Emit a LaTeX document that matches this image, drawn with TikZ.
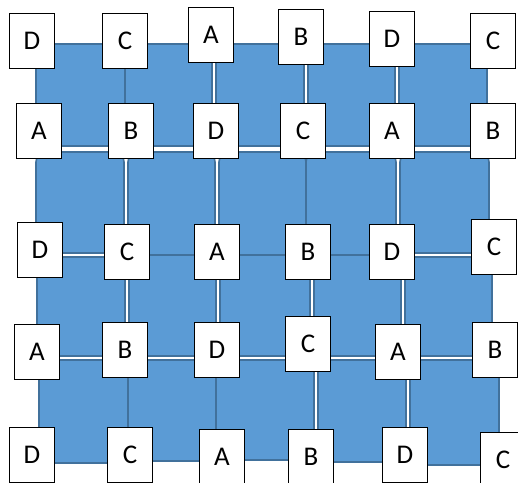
\documentclass[tikz,border=0pt]{standalone}
\usepackage{fontspec}
\setmainfont{Carlito}
\definecolor{cellfill}{HTML}{5B9BD5}
\definecolor{celldraw}{HTML}{41719C}
\begin{document}
\begin{tikzpicture}[x=1pt,y=-1pt,
  cell/.style={fill=cellfill,draw=celldraw,line width=1.6pt},
  lbl/.style={draw=black,fill=white,line width=1.3pt,minimum width=45pt,minimum height=55pt,inner sep=0pt,font=\fontsize{27}{27}\selectfont}]
\useasboundingbox (0,0) rectangle (518,482);
\clip (0,0) rectangle (518,482);
% row 1 cells
\begin{scope}[rounded corners=3pt]
\draw[cell] (36,44) rectangle (125,146);
\draw[cell] (125,44) rectangle (212,146);
\draw[cell] (216,44) rectangle (304,146);
\draw[cell] (308,44) rectangle (395,146);
\draw[cell] (399,44) rectangle (487,146);
\end{scope}
% row 2 cells
\begin{scope}[rounded corners=10pt]
\draw[cell] (36,152) rectangle (124,253);
\draw[cell] (128,152) rectangle (215,255);
\draw[cell] (219,152) rectangle (306,255);
\draw[cell] (306,152) rectangle (396,255);
\draw[cell] (400,152) rectangle (489,253);
\end{scope}
% row 3 cells
\begin{scope}[rounded corners=2pt]
\draw[cell] (37,257) rectangle (125,356);
\draw[cell] (129,255) rectangle (216,356);
\draw[cell] (220,255) rectangle (310,356);
\draw[cell] (314,255) rectangle (401,356);
\draw[cell] (405,257) rectangle (492,356);
\end{scope}
% row 4 cells
\begin{scope}[rounded corners=2pt]
\draw[cell] (39,360) rectangle (128,463);
\draw[cell] (128,360) rectangle (216,461);
\draw[cell] (216,360) rectangle (314,460);
\draw[cell] (318,360) rectangle (406,462);
\draw[cell] (410,360) rectangle (499,465);
\end{scope}
% labels row 1
\node[lbl] (a1) at (32,41) {D};
\node[lbl] (a2) at (125,41) {C};
\node[lbl] (a3) at (211,35) {A};
\node[lbl] (a4) at (301,37) {B};
\node[lbl] (a5) at (392,39) {D};
\node[lbl] (a6) at (493,41) {C};
% row 2
\node[lbl] (b1) at (39,131) {A};
\node[lbl] (b2) at (131,131) {B};
\node[lbl] (b3) at (216,131) {D};
\node[lbl] (b4) at (303,131) {C};
\node[lbl] (b5) at (392,131) {A};
\node[lbl] (b6) at (493,131) {B};
% row 3
\node[lbl] (c1) at (40,250) {D};
\node[lbl] (c2) at (127,252) {C};
\node[lbl] (c3) at (217,252) {A};
\node[lbl] (c4) at (308,252) {B};
\node[lbl] (c5) at (392,252) {D};
\node[lbl] (c6) at (494,247) {C};
% row 4
\node[lbl] (d1) at (37,352) {A};
\node[lbl] (d2) at (125,350) {B};
\node[lbl] (d3) at (217,350) {D};
\node[lbl] (d4) at (308,344) {C};
\node[lbl] (d5) at (398,352) {A};
\node[lbl] (d6) at (495,350) {B};
% row 5
\node[lbl] (e1) at (32,455) {D};
\node[lbl] (e2) at (130,455) {C};
\node[lbl] (e3) at (222,457) {A};
\node[lbl] (e4) at (311,457) {B};
\node[lbl] (e5) at (405,455) {D};
\node[lbl] (e6) at (503,460) {C};
\end{tikzpicture}
\end{document}
